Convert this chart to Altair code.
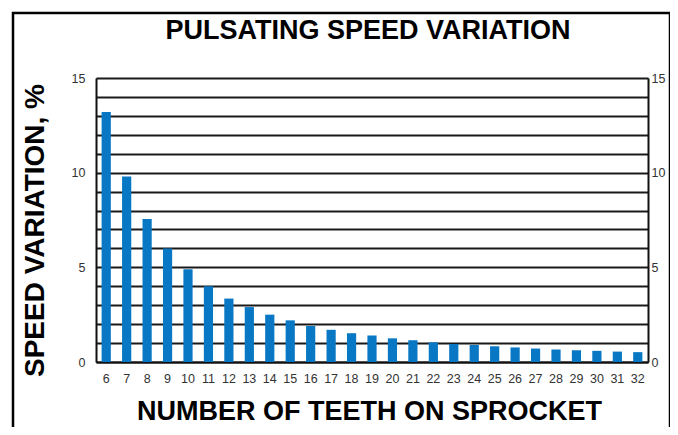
import altair as alt
import pandas as pd

teeth = list(range(6, 33))
variation = [13.2, 9.8, 7.55, 6.0, 4.9, 4.0, 3.35, 2.9, 2.5, 2.2, 1.9, 1.7, 1.52,
             1.4, 1.25, 1.15, 1.04, 0.95, 0.9, 0.83, 0.77, 0.71, 0.66, 0.62,
             0.59, 0.55, 0.52]
y_ticks = list(range(0, 16))
title_text = "PULSATING SPEED VARIATION"

df = pd.DataFrame({"teeth": teeth, "var": variation})

FONT = "Liberation Sans"
W, H = 552, 284

xenc = alt.X("teeth:O", sort=teeth,
             scale=alt.Scale(paddingInner=0.55, paddingOuter=0.275),
             axis=alt.Axis(title="NUMBER OF TEETH ON SPROCKET", labelAngle=0,
                           ticks=False, domainColor="#111", domainWidth=2,
                           labelFont=FONT, labelFontSize=12.5, labelColor="#333",
                           labelPadding=10, titleFont=FONT, titleFontSize=27,
                           titleFontWeight="bold", titleColor="#000",
                           titleX=W / 2 - 3, titleY=57, titleBaseline="alphabetic",
                           titleAlign="center"))

bars = alt.Chart(df).mark_bar(color="#0877c4").encode(
    x=xenc,
    y=alt.Y("var:Q", scale=alt.Scale(domain=[0, 15], nice=False),
            axis=alt.Axis(title="SPEED VARIATION, %", values=y_ticks,
                          labelExpr="datum.value % 5 == 0 ? datum.label : ''",
                          ticks=False, grid=True, gridColor="#1a1a1a", gridWidth=2,
                          gridOpacity=1, domainColor="#111", domainWidth=2,
                          labelFont=FONT, labelFontSize=12.5, labelColor="#333",
                          labelPadding=11, titleFont=FONT, titleFontSize=28,
                          titleFontWeight="bold", titleColor="#000",
                          titleAngle=270, titleX=-61, titleY=H / 2 + 10,
                          titleBaseline="middle", titleAlign="center")),
)

right = alt.Chart(df).mark_bar(opacity=0).encode(
    x=xenc,
    y=alt.Y("var:Q", scale=alt.Scale(domain=[0, 15], nice=False),
            axis=alt.Axis(orient="right", title=None, values=[0, 5, 10, 15],
                          ticks=False, grid=False, domainColor="#111",
                          domainWidth=2, labelFont=FONT, labelFontSize=12.5,
                          labelColor="#333", labelPadding=3)),
)

one = pd.DataFrame({"t": [title_text]})

frame = alt.Chart(one).mark_rect(
    fill=None, stroke="#000", strokeWidth=2.5
).encode(
    x=alt.value(-83), x2=alt.value(574), y=alt.value(-65), y2=alt.value(420)
)

title = alt.Chart(one).mark_text(
    font=FONT, fontSize=27, fontWeight="bold", color="#000",
    align="center", baseline="alphabetic"
).encode(text="t:N", x=alt.value(W / 2 - 4), y=alt.value(-39))

chart = alt.layer(bars, right, frame, title).resolve_scale(y="independent").properties(
    width=W, height=H,
    autosize=alt.AutoSizeParams(type="none"),
    padding={"left": 88, "top": 70, "right": 22, "bottom": 65},
).configure_view(stroke=None).configure(background="white")

chart.save("out.html", embed_options={"renderer": "svg", "actions": False})
